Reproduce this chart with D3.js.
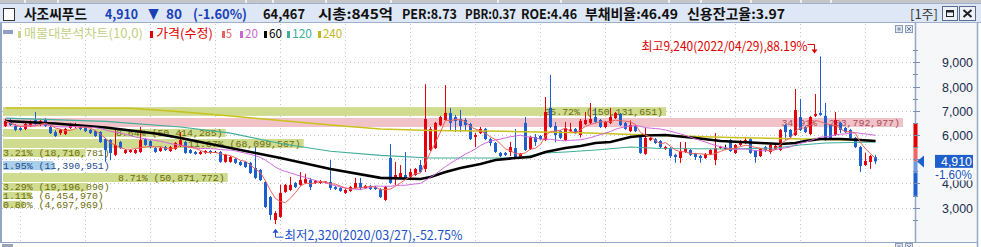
<!DOCTYPE html>
<html>
<head>
<meta charset="utf-8">
<script src="https://cdn.jsdelivr.net/npm/d3@7"></script>
<style>
  body { margin: 0; background: #fff; overflow: hidden; }
  svg { display: block; }
  text { font-family: "Noto Sans CJK KR", "DejaVu Sans", sans-serif; }
  .mono { font-family: "Liberation Mono", "DejaVu Sans Mono", monospace; }
  .num { font-family: "Liberation Sans", "DejaVu Sans", sans-serif; }
</style>
</head>
<body>
<div id="chart"></div>
<script>
// weekly candles (adjusted price), oldest first
const opens = [
  6370,6620,6370,6290,6250,6370,6620,6410,6620,6330,
  6120,6080,6040,6290,6330,6370,6290,6210,6160,6120,
  5830,5790,5180,5710,5260,5300,5260,5300,5830,5750,
  5460,5340,5500,5340,5420,5550,5710,5380,5300,5220,
  5260,5340,5300,5300,4890,4890,5010,4890,4890,4850,
  4640,4560,4060,3440,2490,2620,3650,3730,4020,3940,
  4020,4140,4020,4020,4040,4060,3850,3810,3610,3690,
  3810,4020,3810,3900,3850,3770,3320,5050,4230,4230,
  4350,4270,4350,4760,4600,5380,5460,6410,6620,6910,
  6740,6660,6620,6450,5920,6080,6250,5830,5670,5260,
  5260,5300,5460,5090,6500,5420,5920,5960,5790,7120,
  6370,6160,5790,6160,6250,6000,6450,6500,6740,6620,
  6330,6500,6700,6870,6500,6160,6370,6000,5220,5790,
  5830,5750,5420,5460,5180,5050,5300,5380,5220,5130,
  5050,5220,4970,5460,5460,5790,5260,5590,5670,5830,
  5340,5130,5500,5300,5420,5380,6410,6210,6000,6740,
  6330,6040,6790,6910,6790,6410,6000,6500,6290,6210,
  5880,5500,4760,4890,5090
];
const highs = [
  6660,6700,6450,6330,6500,6600,6950,6620,6700,6370,
  6200,6250,6290,6500,6500,6410,6330,6250,6200,6160,
  5880,5830,6290,5750,5420,5420,5420,6330,5880,5790,
  5500,5500,5550,5550,5710,6120,5750,5420,5340,5340,
  5380,5380,5340,5340,5220,5130,5050,4930,4930,4890,
  5500,4600,4100,3480,2860,3940,3980,4270,4060,4470,
  4400,4230,4140,4140,4100,4970,3900,3850,3770,3900,
  4230,4230,3940,3940,3900,3810,3900,5630,4890,4760,
  5300,4600,4640,4970,8100,6330,6540,6790,8060,7120,
  6830,7030,6700,6500,6080,6330,6290,5880,5710,5300,
  5300,5720,6250,5260,6740,5960,6040,6000,7570,8480,
  6530,6200,6540,6500,6290,6660,6950,7320,7120,6660,
  6580,7120,6950,6910,6540,6600,6410,6040,6290,5920,
  5880,5790,5550,5500,5220,5710,5710,5420,5260,5180,
  5260,5420,6080,5550,5600,5830,5630,5790,5920,5880,
  5380,5460,5550,5630,5590,6250,6450,6250,7900,7490,
  6370,6790,7690,9240,7320,6450,6950,6540,6330,6250,
  5920,5550,5260,5180,5180
];
const lows = [
  6330,6370,6160,6160,6200,6330,6410,6370,6330,6040,
  5920,6000,6000,6250,6290,6200,6120,6040,5920,5670,
  4890,4960,5130,5420,5220,5260,5220,5260,5550,5460,
  5260,5300,5340,5300,5380,5500,5220,5220,5180,5180,
  5220,5220,5260,4850,4850,4850,4800,4720,4640,4390,
  4180,4100,2990,2490,2320,2580,3610,3690,3810,3900,
  3980,3730,3980,3980,4000,3730,3730,3650,3570,3650,
  3770,3730,3770,3730,3730,3400,3280,3980,3940,4180,
  4140,4230,4310,4430,4470,5340,5420,6370,6580,6210,
  6120,6120,6160,5790,5500,6040,5790,5550,5260,5090,
  5130,5130,5010,5050,5340,5380,5550,5790,5750,6290,
  5700,5830,5750,6120,6040,5900,6410,6450,6500,6290,
  6290,6450,6660,6370,6210,6120,6120,5220,5180,5750,
  5630,5460,5380,5050,4850,4850,5260,5130,4970,4850,
  5010,5180,4760,5420,5400,5300,5220,5550,5630,5220,
  4850,5090,5300,5220,5380,5340,5790,5880,5960,6160,
  6080,6000,6740,6790,5750,5830,5960,6080,6080,5830,
  5460,4470,4720,4600,4800
];
const closes = [
  6580,6410,6210,6210,6450,6540,6450,6580,6370,6080,
  5960,6210,6250,6450,6450,6250,6160,6080,5960,5710,
  5380,5260,5590,5460,5380,5380,5380,5790,5590,5500,
  5300,5460,5380,5500,5670,5790,5260,5260,5220,5300,
  5340,5260,5300,4890,5180,5090,4850,4760,4680,4430,
  4230,4140,3030,2700,2780,3610,3940,3940,3850,4140,
  4180,3850,4100,4100,4080,3810,3770,3690,3730,3850,
  4020,3810,3900,3770,3770,3440,3850,4020,4350,4430,
  4180,4470,4600,4470,6660,6250,6500,6740,6910,6500,
  6580,6370,6410,5830,6000,6250,5830,5670,5300,5130,
  5180,5500,5050,5220,5380,5920,5710,5830,6950,6330,
  6000,5880,6290,6230,6080,6580,6620,6660,6540,6330,
  6540,6740,6910,6410,6250,6410,6160,5260,5880,5880,
  5670,5500,5500,5130,5090,5340,5460,5180,5090,5050,
  5220,5380,5460,5500,5460,5340,5590,5710,5790,5260,
  5090,5420,5380,5590,5550,6210,6120,5920,7030,6210,
  6120,6740,6870,6830,5790,5880,6620,6210,6120,5880,
  5500,4720,4930,5130,4910
];

// long moving averages (week index -> price)
const ma60At  = [0,10,20,30,35,45,55,65,75,83,85,88,91,95,98,102,105,108,112,115,118,121,125,128,132,138,143,147,151,155,158,160,163,167,171,174];
const ma60    = [6580,6475,6310,6060,5880,5460,5050,4600,4230,4185,4267,4473,4638,4803,4969,5051,5092,5299,5464,5546,5670,5712,5918,5980,6000,5877,5753,5712,5670,5629,5670,5753,5835,5835,5794,5753];
const ma120At = [0,20,35,45,55,65,75,85,95,102,108,112,118,125,131,145,154,159,164,174];
const ma120   = [6700,6560,6330,6080,5650,5330,5160,5050,5050,5050,5258,5299,5381,5505,5443,5423,5464,5588,5670,5712];
const ma240At = [0,25,35,45,55,65,75,85,100,115,130,145,160,174];
const ma240   = [7115,7100,6960,6780,6600,6410,6250,6190,6150,6090,5990,5900,5840,5760];

// volume profile (매물대), top bucket first
const profileLo  = [6790, 6330, 5920, 5465, 5090, 4555, 4060, 3690, 3360, 2990];
const profileHi  = [7150, 6700, 6250, 5835, 5420, 4925, 4430, 4020, 3650, 3275];
const profileVol = [150131651, 203792977, 50414285, 68099567, 18710781, 11390951, 50871772, 19196090, 6454970, 4697969];
const profilePct = ["25.72", "34.91", "8.64", "11.67", "3.21", "1.95", "8.71", "3.29", "1.11", "0.80"];

const priceTicks = [3000, 4000, 5000, 6000, 7000, 8000, 9000];
const minorTicks = [2500, 3500, 4500, 5500, 6500, 7500, 8500, 9500];
const gridWeeks = [3, 16, 29, 42, 55, 68, 81, 94, 107, 120, 133, 146, 159, 172];
const lastPrice = 4910;
const lastPctText = "-1.60%";
const limitBand = [6480, 5460, 4910, 4430, 3490];
const maxText = "최고9,240(2022/04/29),88.19%";
const minText = "최저2,320(2020/03/27),-52.75%";

const W = 981, H = 247;
const red = "#e6000e", blue = "#1e5fd0", frame = "#93a6c6";

const svg = d3.select("#chart").append("svg")
    .attr("width", W)
    .attr("height", H);

svg.append("rect").attr("width", W).attr("height", H).attr("fill", "#fff");

// scales
const x = d3.scaleBand().domain(d3.range(closes.length)).range([3, 878]);
const cx = i => x(i) + x.bandwidth() / 2;
const y = d3.scaleLinear().domain([3000, 9000]).range([207.7, 62.3]);
const vw = d3.scaleLinear().domain([0, d3.max(profileVol)]).range([0, 900]);

// right axis panel background
svg.append("rect").attr("x", 916).attr("y", 23).attr("width", 61).attr("height", 219).attr("fill", "#f5f7f9");

svg.append("clipPath").attr("id", "plotclip")
  .append("rect").attr("x", 2).attr("y", 24).attr("width", 913).attr("height", 218);
const plot = svg.append("g").attr("clip-path", "url(#plotclip)");

// gridlines
plot.append("g").selectAll("line").data(priceTicks).enter().append("line")
    .attr("x1", 2).attr("x2", 915)
    .attr("y1", d => Math.round(y(d)) + 0.5).attr("y2", d => Math.round(y(d)) + 0.5)
    .attr("stroke", "#c4c4c4").attr("stroke-dasharray", "1,3");
plot.append("g").selectAll("line").data(gridWeeks).enter().append("line")
    .attr("x1", d => cx(d)).attr("x2", d => cx(d))
    .attr("y1", 24).attr("y2", 242)
    .attr("stroke", "#c4c4c4").attr("stroke-dasharray", "1,3");

// volume profile bands
const maxVol = d3.max(profileVol);
const fmt = d3.format(",");
profileVol.forEach((v, k) => {
    const top = y(profileHi[k]), bot = y(profileLo[k]);
    const cur = lastPrice >= profileLo[k] && lastPrice <= profileHi[k];
    const fill = cur ? "#a9cfe9" : v === maxVol ? "#f1c2c8" : "#cfdb8f";
    const tc = cur ? "#1f4a8c" : v === maxVol ? "#a84c58" : "#6c6c08";
    plot.append("rect")
        .attr("x", 3).attr("y", top)
        .attr("width", vw(v)).attr("height", bot - top)
        .attr("fill", fill);
    const label = profilePct[k] + "% (" + fmt(v) + ")";
    const tw = label.length * 5.93;
    const inside = vw(v) > tw + 6;
    plot.append("text")
        .attr("class", "mono")
        .attr("x", inside ? 3 + vw(v) - 3 : 3)
        .attr("y", (top + bot) / 2 + 3.3)
        .attr("text-anchor", inside ? "end" : "start")
        .attr("font-size", 9.5)
        .attr("textLength", tw).attr("lengthAdjust", "spacingAndGlyphs")
        .attr("fill", tc)
        .text(label);
});

// candles
const cg = plot.append("g");
closes.forEach((c, i) => {
    const o = opens[i];
    const col = c > o ? red : c < o ? blue : "#000";
    cg.append("line")
        .attr("x1", cx(i)).attr("x2", cx(i))
        .attr("y1", y(highs[i])).attr("y2", y(lows[i]))
        .attr("stroke", col).attr("stroke-width", 1);
    const t = y(Math.max(o, c)), b = y(Math.min(o, c));
    cg.append("rect")
        .attr("x", cx(i) - 1.5).attr("y", t)
        .attr("width", 3).attr("height", Math.max(1, b - t))
        .attr("fill", col);
});

// moving averages
const sma = n => closes.map((c, i) => d3.mean(closes.slice(Math.max(0, i - n + 1), i + 1)));
const lineIdx = d3.line().x((d, i) => cx(i)).y(d => y(d));
const linePts = d3.line().x(d => cx(d[0])).y(d => y(d[1]));

plot.append("path").attr("d", linePts(d3.zip(ma240At, ma240)))
    .attr("fill", "none").attr("stroke", "#c9c21c").attr("stroke-width", 1.5);
plot.append("path").attr("d", linePts(d3.zip(ma120At, ma120)))
    .attr("fill", "none").attr("stroke", "#3fae9c").attr("stroke-width", 1.2);
plot.append("path").attr("d", linePts(d3.zip(ma60At, ma60)))
    .attr("fill", "none").attr("stroke", "#000").attr("stroke-width", 2.6);
plot.append("path").attr("d", lineIdx(sma(20)))
    .attr("fill", "none").attr("stroke", "#cf68dc").attr("stroke-width", 1);
plot.append("path").attr("d", lineIdx(sma(5)))
    .attr("fill", "none").attr("stroke", "#f0625a").attr("stroke-width", 1);

// legend
const legend = [
    { t: "매물대분석차트(10,0)", m: 18, x: 24, w: 119, c: "#c3cf84", mc: "#c9d58c" },
    { t: "가격(수정)", m: 150, x: 156, w: 57, c: "#e00000", mc: "#e00000" },
    { t: "5", m: 222, x: 226, w: 6, c: "#e86060", mc: "#e86060" },
    { t: "20", m: 240, x: 245, w: 13, c: "#c868d0", mc: "#c868d0" },
    { t: "60", m: 264, x: 269, w: 13, c: "#000", mc: "#000" },
    { t: "120", m: 287, x: 292, w: 20, c: "#3fae9c", mc: "#3fae9c" },
    { t: "240", m: 318, x: 323, w: 19, c: "#c0b820", mc: "#c0b820" }
];
svg.append("rect").attr("x", 3).attr("y", 30).attr("width", 10).attr("height", 4).attr("fill", "#8ea0c4");
legend.forEach(d => {
    svg.append("rect").attr("x", d.m).attr("y", 31).attr("width", 3).attr("height", 7).attr("fill", d.mc);
    svg.append("text").attr("x", d.x).attr("y", 37.5)
        .attr("font-size", 12.5)
        .attr("textLength", d.w).attr("lengthAdjust", "spacingAndGlyphs")
        .attr("fill", d.c).text(d.t);
});

// frame
svg.append("line").attr("x1", 1).attr("x2", 1).attr("y1", 23).attr("y2", 243).attr("stroke", frame).attr("stroke-width", 2);
svg.append("line").attr("x1", 915.5).attr("x2", 915.5).attr("y1", 23).attr("y2", 243).attr("stroke", frame).attr("stroke-width", 1.5);
svg.append("line").attr("x1", 977.5).attr("x2", 977.5).attr("y1", 23).attr("y2", 247).attr("stroke", frame).attr("stroke-width", 1.5);
svg.append("line").attr("x1", 0).attr("x2", 978).attr("y1", 242.5).attr("y2", 242.5).attr("stroke", frame).attr("stroke-width", 1);
svg.append("rect").attr("x", 2).attr("y", 244).attr("width", 11).attr("height", 3).attr("fill", "#9aa4b8");

// price band indicator on the axis
const bandCols = ["#e00000", "#f06464", "#6b9ae0", "#1e5fd0"];
bandCols.forEach((c, k) => {
    svg.append("rect").attr("x", 913.5).attr("width", 4)
        .attr("y", y(limitBand[k])).attr("height", y(limitBand[k + 1]) - y(limitBand[k]))
        .attr("fill", c);
});

// axis ticks and labels
const yp = y(lastPrice);
svg.append("g").selectAll("line").data(priceTicks).enter().append("line")
    .attr("x1", 913).attr("x2", 920)
    .attr("y1", d => Math.round(y(d)) + 0.5).attr("y2", d => Math.round(y(d)) + 0.5)
    .attr("stroke", "#7b8fb0");
svg.append("g").selectAll("line").data(minorTicks).enter().append("line")
    .attr("x1", 913).attr("x2", 918)
    .attr("y1", d => Math.round(y(d)) + 0.5).attr("y2", d => Math.round(y(d)) + 0.5)
    .attr("stroke", "#7b8fb0");
// labels fully covered by the current price box are not drawn
svg.append("g").selectAll("text").data(priceTicks.filter(d => Math.abs(y(d) - yp) > 8)).enter().append("text")
    .attr("class", "num")
    .attr("x", 973).attr("y", d => y(d) + 5)
    .attr("text-anchor", "end").attr("font-size", 13.5)
    .attr("textLength", 31).attr("lengthAdjust", "spacingAndGlyphs")
    .attr("fill", "#222c4c")
    .text(d => fmt(d));

// current price marker
svg.append("path")
    .attr("d", "M917," + yp + "L924," + (yp - 6) + "L924," + (yp + 6) + "Z")
    .attr("fill", "#1e5fd0");
svg.append("rect").attr("x", 935).attr("y", yp - 6.5).attr("width", 38).attr("height", 13).attr("fill", "#1f5fcc");
svg.append("text").attr("class", "num").attr("x", 972).attr("y", yp + 5)
    .attr("text-anchor", "end").attr("font-size", 13.5)
    .attr("textLength", 31).attr("lengthAdjust", "spacingAndGlyphs")
    .attr("fill", "#fff").text(fmt(lastPrice));
svg.append("rect").attr("x", 935).attr("y", yp + 6.5).attr("width", 38).attr("height", 12.5).attr("fill", "#fff");
svg.append("text").attr("class", "num").attr("x", 972).attr("y", yp + 17.5)
    .attr("text-anchor", "end").attr("font-size", 13)
    .attr("textLength", 37).attr("lengthAdjust", "spacingAndGlyphs")
    .attr("fill", "#2050c0").text(lastPctText);

// high / low annotations
const iMax = d3.maxIndex(highs), iMin = d3.minIndex(lows);
const xh = cx(iMax), yh = y(highs[iMax]);
svg.append("text").attr("x", xh - 13).attr("y", yh - 5.5)
    .attr("text-anchor", "end").attr("font-size", 12.5)
    .attr("textLength", 166).attr("lengthAdjust", "spacingAndGlyphs")
    .attr("fill", "#e00000").text(maxText);
svg.append("path")
    .attr("d", "M" + (xh - 13) + "," + (yh - 12) + "H" + (xh - 6) + "V" + (yh - 6))
    .attr("fill", "none").attr("stroke", "#e00000");
svg.append("path")
    .attr("d", "M" + (xh - 9) + "," + (yh - 7) + "L" + (xh - 3) + "," + (yh - 7) + "L" + (xh - 6) + "," + (yh - 3) + "Z")
    .attr("fill", "#e00000");

const xl = cx(iMin), yl = y(lows[iMin]);
svg.append("path")
    .attr("d", "M" + xl + "," + (yl + 7) + "V" + (yl + 13) + "H" + (xl + 8))
    .attr("fill", "none").attr("stroke", "#2050c8");
svg.append("path")
    .attr("d", "M" + xl + "," + (yl + 4.5) + "L" + (xl - 3) + "," + (yl + 8.5) + "L" + (xl + 3) + "," + (yl + 8.5) + "Z")
    .attr("fill", "#2050c8");
svg.append("text").attr("x", xl + 9).attr("y", yl + 16)
    .attr("font-size", 12.5)
    .attr("textLength", 178).attr("lengthAdjust", "spacingAndGlyphs")
    .attr("fill", "#2050c8").text(minText);

// small panel icons
[25.5, 243.5].forEach(iy => {
    svg.append("rect").attr("x", 895.5).attr("y", iy).attr("width", 7).attr("height", 7)
        .attr("fill", "#dfe6f0").attr("stroke", "#8c9cb8");
    svg.append("rect").attr("x", 897.5).attr("y", iy + 2).attr("width", 3).attr("height", 3).attr("fill", "#8c9cb8");
    svg.append("rect").attr("x", 905.5).attr("y", iy).attr("width", 7).attr("height", 7)
        .attr("fill", "#dfe6f0").attr("stroke", "#8c9cb8");
    svg.append("path").attr("d", "M907," + (iy + 1.5) + "L911," + (iy + 5.5) + "M911," + (iy + 1.5) + "L907," + (iy + 5.5))
        .attr("stroke", "#6c7c98");
});

// header bar
svg.append("rect").attr("x", 0).attr("y", 0).attr("width", W).attr("height", 3).attr("fill", "#c6c6c6");
[24, 57, 245, 272, 325, 390, 497, 560, 668, 700, 750, 800, 830].forEach(gx => {
    svg.append("rect").attr("x", gx).attr("y", 0).attr("width", 2).attr("height", 3).attr("fill", "#eeeeee");
});
svg.append("rect").attr("x", 0).attr("y", 3).attr("width", W).attr("height", 19.5)
    .attr("fill", "#dde7f6");
svg.append("line").attr("x1", 0).attr("x2", W).attr("y1", 3.5).attr("y2", 3.5).attr("stroke", "#9db0cf");
svg.append("line").attr("x1", 0).attr("x2", W).attr("y1", 22.5).attr("y2", 22.5).attr("stroke", "#9db0cf");
svg.append("rect").attr("x", 3.5).attr("y", 8.5).attr("width", 11).attr("height", 12)
    .attr("fill", "#fff").attr("stroke", "#333");

const hblue = "#1a3fb4", hblack = "#111";
const header = [
    { t: "사조씨푸드", x: 24, w: 63, c: hblack },
    { t: "4,910", x: 105, w: 33, c: hblue },
    { t: "▼", x: 148, w: 11, c: hblue },
    { t: "80", x: 166, w: 16, c: hblue },
    { t: "(-1.60%)", x: 193, w: 54, c: hblue },
    { t: "64,467", x: 263, w: 42, c: hblack },
    { t: "시총:845억", x: 318, w: 75, c: hblack },
    { t: "PER:8.73", x: 402, w: 55, c: hblack },
    { t: "PBR:0.37", x: 465, w: 51, c: hblack },
    { t: "ROE:4.46", x: 521, w: 56, c: hblack },
    { t: "부채비율:46.49", x: 585, w: 93, c: hblack },
    { t: "신용잔고율:3.97", x: 687, w: 98, c: hblack }
];
header.forEach(d => {
    svg.append("text").attr("x", d.x).attr("y", 19)
        .attr("font-size", 13.5).attr("font-weight", "bold")
        .attr("textLength", d.w).attr("lengthAdjust", "spacingAndGlyphs")
        .attr("fill", d.c).text(d.t);
});
svg.append("text").attr("x", 910).attr("y", 19)
    .attr("font-size", 13)
    .attr("textLength", 28).attr("lengthAdjust", "spacingAndGlyphs")
    .attr("fill", "#333").text("[1주]");

// window buttons
svg.append("rect").attr("x", 942.5).attr("y", 6.5).attr("width", 15).attr("height", 14)
    .attr("fill", "#eef2f8").attr("stroke", "#5c6c88");
svg.append("rect").attr("x", 946.5).attr("y", 10.5).attr("width", 7).attr("height", 6)
    .attr("fill", "none").attr("stroke", "#222");
svg.append("rect").attr("x", 946).attr("y", 10).attr("width", 8).attr("height", 2.5).attr("fill", "#222");
svg.append("rect").attr("x", 959.5).attr("y", 6.5).attr("width", 16).attr("height", 14)
    .attr("fill", "#eef2f8").attr("stroke", "#5c6c88");
svg.append("path").attr("d", "M963.5,10L971.5,17M971.5,10L963.5,17")
    .attr("stroke", "#222").attr("stroke-width", 2);
</script>
</body>
</html>
